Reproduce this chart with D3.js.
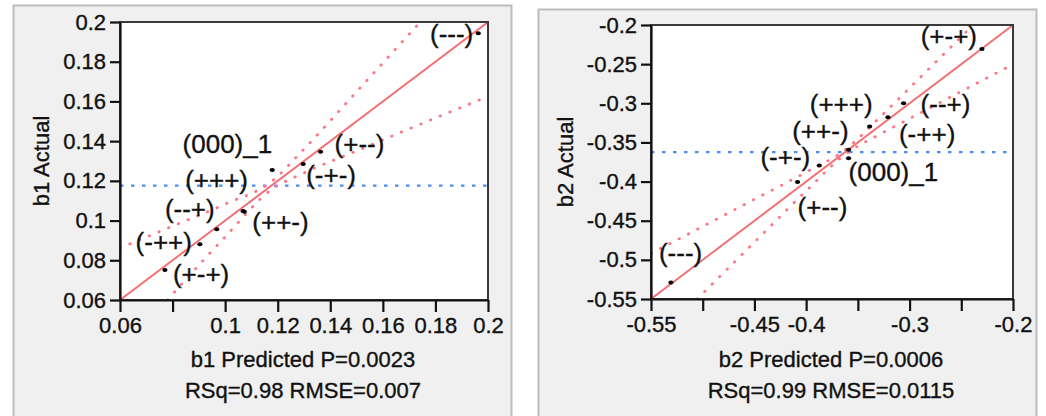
<!DOCTYPE html>
<html>
<head>
<meta charset="utf-8">
<script src="https://cdn.jsdelivr.net/npm/d3@7"></script>
<style>
  html, body { margin: 0; padding: 0; background: #ffffff; }
  svg { display: block; }
  text { font-family: "Liberation Sans", Arial, sans-serif; fill: #111; stroke: #111; stroke-width: 0.35px; }
</style>
</head>
<body>
<svg id="chart" width="1046" height="416"></svg>
<script>
// ---------------- data ----------------
const runLabels = ["(---)", "(+--)", "(-+-)", "(000)_1", "(+++)", "(++-)", "(--+)", "(-++)", "(+-+)"];

const b1Predicted = [0.1963, 0.1363, 0.1297, 0.1179, 0.1068, 0.1073, 0.0968, 0.0904, 0.0771];
const b1Actual    = [0.1943, 0.1347, 0.1285, 0.1255, 0.1048, 0.1045, 0.0956, 0.0881, 0.0751];

const b2Predicted = [-0.5307, -0.4083, -0.3873, -0.3590, -0.3386, -0.3590, -0.3058, -0.3209, -0.2300];
const b2Actual    = [-0.5288, -0.4007, -0.3795, -0.3701, -0.3297, -0.3595, -0.2999, -0.3178, -0.2306];

const b1Mean = 0.1176;
const b2Mean = -0.3624;

const b1FitX = [0.06, 0.2], b1FitY = [0.06, 0.2];
const b2FitX = [-0.55, -0.2], b2FitY = [-0.55, -0.2];

const b1UpperX = [0.06, 0.08, 0.10, 0.1176, 0.13, 0.15, 0.1741];
const b1UpperY = [0.0862, 0.0972, 0.1083, 0.1196, 0.1360, 0.1649, 0.1998];
const b1LowerX = [0.078, 0.10, 0.1176, 0.13, 0.15, 0.17, 0.2];
const b1LowerY = [0.0600, 0.0918, 0.1156, 0.1240, 0.1351, 0.1462, 0.1625];

const b2UpperX = [-0.55, -0.50, -0.45, -0.40, -0.3624, -0.33, -0.30, -0.27, -0.2385];
const b2UpperY = [-0.4918, -0.4573, -0.4226, -0.3880, -0.3594, -0.3195, -0.2804, -0.2412, -0.2000];
const b2LowerX = [-0.5053, -0.45, -0.40, -0.3624, -0.33, -0.30, -0.25, -0.20];
const b2LowerY = [-0.5500, -0.4774, -0.4120, -0.3654, -0.3405, -0.3196, -0.2848, -0.2503];

const b1XTicks = [0.06, 0.08, 0.1, 0.12, 0.14, 0.16, 0.18, 0.2];
const b1XTickLabels = ["0.06", "", "0.1", "0.12", "0.14", "0.16", "0.18", "0.2"];
const b1YTicks = [0.06, 0.08, 0.1, 0.12, 0.14, 0.16, 0.18, 0.2];
const b1YTickLabels = ["0.06", "0.08", "0.1", "0.12", "0.14", "0.16", "0.18", "0.2"];

const b2XTicks = [-0.55, -0.5, -0.45, -0.4, -0.35, -0.3, -0.25, -0.2];
const b2XTickLabels = ["-0.55", "", "-0.45", "-0.4", "", "-0.3", "", "-0.2"];
const b2YTicks = [-0.55, -0.5, -0.45, -0.4, -0.35, -0.3, -0.25, -0.2];
const b2YTickLabels = ["-0.55", "-0.5", "-0.45", "-0.4", "-0.35", "-0.3", "-0.25", "-0.2"];

const b1Titles = ["b1 Actual", "b1 Predicted P=0.0023", "RSq=0.98 RMSE=0.007"];
const b2Titles = ["b2 Actual", "b2 Predicted P=0.0006", "RSq=0.99 RMSE=0.0115"];

// ---------------- layout (label placement, px offsets from each point) ----------------
const b1LabelPlace = [
  ["end", -5, 10], ["start", 14, 1.5], ["start", 3, 20], ["end", 0, -17], ["end", 5, -22],
  ["start", 8, 19], ["end", -2, -11], ["end", -8, 7], ["start", 8, 13]
];
const b2LabelPlace = [
  ["start", -12, -20], ["start", 0, 34], ["end", -9, 0], ["start", 0, 23], ["end", 3, -14],
  ["end", 0, -10], ["start", 17, 10], ["start", 11, 26], ["end", -5, -4]
];

const svg = d3.select("#chart");

function drawPanel(cfg) {
  const g = svg.append("g");
  // panel background
  g.append("rect")
    .attr("x", cfg.frame[0]).attr("y", cfg.frame[1])
    .attr("width", cfg.frame[2]).attr("height", cfg.frame[3])
    .attr("fill", "#f0f0f0").attr("stroke", "#bcbcbc").attr("stroke-width", 2);

  const x = d3.scaleLinear().domain(cfg.xDomain).range(cfg.xRange);
  const y = d3.scaleLinear().domain(cfg.yDomain).range(cfg.yRange);
  const [x0, x1] = cfg.xRange, [y0, y1] = cfg.yRange;

  // plot area
  g.append("rect").attr("x", x0).attr("y", y1).attr("width", x1 - x0).attr("height", y0 - y1)
    .attr("fill", "#ffffff");

  const clipId = "clip" + cfg.id;
  g.append("clipPath").attr("id", clipId).append("rect")
    .attr("x", x0).attr("y", y1).attr("width", x1 - x0).attr("height", y0 - y1);
  const plot = g.append("g").attr("clip-path", `url(#${clipId})`);

  // mean line
  plot.append("line")
    .attr("x1", x0).attr("x2", x1).attr("y1", y(cfg.mean)).attr("y2", y(cfg.mean))
    .attr("stroke", "#4a8ef5").attr("stroke-width", 2.2)
    .attr("stroke-dasharray", "3.5,7.5");

  const line = d3.line().x(d => x(d[0])).y(d => y(d[1])).curve(d3.curveMonotoneX);

  // confidence curves
  [[cfg.upX, cfg.upY], [cfg.loX, cfg.loY]].forEach(([xs, ys]) => {
    plot.append("path").datum(xs.map((v, i) => [v, ys[i]]))
      .attr("d", line).attr("fill", "none")
      .attr("stroke", "#ff7585").attr("stroke-width", 2.8)
      .attr("stroke-linecap", "round")
      .attr("stroke-dasharray", "0.5,10");
  });

  // fit line
  plot.append("path").datum(cfg.fitX.map((v, i) => [v, cfg.fitY[i]]))
    .attr("d", d3.line().x(d => x(d[0])).y(d => y(d[1])))
    .attr("fill", "none").attr("stroke", "#f56f72").attr("stroke-width", 1.9);

  // plot frame
  g.append("rect").attr("x", x0).attr("y", y1).attr("width", x1 - x0).attr("height", y0 - y1)
    .attr("fill", "none").attr("stroke", "#3a3a3a").attr("stroke-width", 2);

  // axes
  const xAxis = d3.axisBottom(x).tickValues(cfg.xTicks)
    .tickFormat((d, i) => cfg.xTickLabels[i]).tickSize(12).tickPadding(5).tickSizeOuter(0);
  const yAxis = d3.axisLeft(y).tickValues(cfg.yTicks)
    .tickFormat((d, i) => cfg.yTickLabels[i]).tickSize(10).tickPadding(4).tickSizeOuter(0);

  const gx = g.append("g").attr("transform", `translate(0,${y0})`).call(xAxis);
  const gy = g.append("g").attr("transform", `translate(${x0},0)`).call(yAxis);
  [gx, gy].forEach(ax => {
    ax.select(".domain").attr("stroke", "#111").attr("stroke-width", 2.2);
    ax.selectAll(".tick line").attr("stroke", "#111").attr("stroke-width", 2.2);
    ax.selectAll(".tick text").attr("font-size", 22)
      .attr("font-family", "'Liberation Sans', Arial, sans-serif").attr("fill", "#111");
  });

  // points
  const pts = cfg.px.map((v, i) => ({ x: v, y: cfg.py[i], label: runLabels[i], place: cfg.place[i] }));
  g.selectAll(".pt" + cfg.id).data(pts).enter().append("ellipse")
    .attr("cx", d => x(d.x)).attr("cy", d => y(d.y))
    .attr("rx", 2.6).attr("ry", 2.0).attr("fill", "#000");

  g.selectAll(".lb" + cfg.id).data(pts).enter().append("text")
    .attr("x", d => x(d.x) + d.place[1]).attr("y", d => y(d.y) + d.place[2])
    .attr("text-anchor", d => d.place[0])
    .attr("font-size", 26).attr("fill", "#111")
    .text(d => d.label);

  // titles
  const cx = (x0 + x1) / 2;
  g.append("text").attr("transform", `translate(${cfg.yTitleX},${(y0 + y1) / 2}) rotate(-90)`)
    .attr("text-anchor", "middle").attr("font-size", 22).text(cfg.titles[0]);
  g.append("text").attr("x", cx - 1).attr("y", 367).attr("text-anchor", "middle")
    .attr("font-size", 22).text(cfg.titles[1]);
  g.append("text").attr("x", cx - 1).attr("y", 398).attr("text-anchor", "middle")
    .attr("font-size", 22).text(cfg.titles[2]);
}

drawPanel({
  id: "1", frame: [13.5, 5.5, 498, 420],
  xDomain: [0.06, 0.2], yDomain: [0.06, 0.2],
  xRange: [120, 488], yRange: [300, 22],
  mean: b1Mean, fitX: b1FitX, fitY: b1FitY,
  upX: b1UpperX, upY: b1UpperY, loX: b1LowerX, loY: b1LowerY,
  xTicks: b1XTicks, xTickLabels: b1XTickLabels, yTicks: b1YTicks, yTickLabels: b1YTickLabels,
  px: b1Predicted, py: b1Actual, place: b1LabelPlace,
  titles: b1Titles, yTitleX: 49
});

drawPanel({
  id: "2", frame: [538.5, 9.5, 498, 420],
  xDomain: [-0.55, -0.2], yDomain: [-0.55, -0.2],
  xRange: [651, 1013], yRange: [299, 25],
  mean: b2Mean, fitX: b2FitX, fitY: b2FitY,
  upX: b2UpperX, upY: b2UpperY, loX: b2LowerX, loY: b2LowerY,
  xTicks: b2XTicks, xTickLabels: b2XTickLabels, yTicks: b2YTicks, yTickLabels: b2YTickLabels,
  px: b2Predicted, py: b2Actual, place: b2LabelPlace,
  titles: b2Titles, yTitleX: 573
});
</script>
</body>
</html>
